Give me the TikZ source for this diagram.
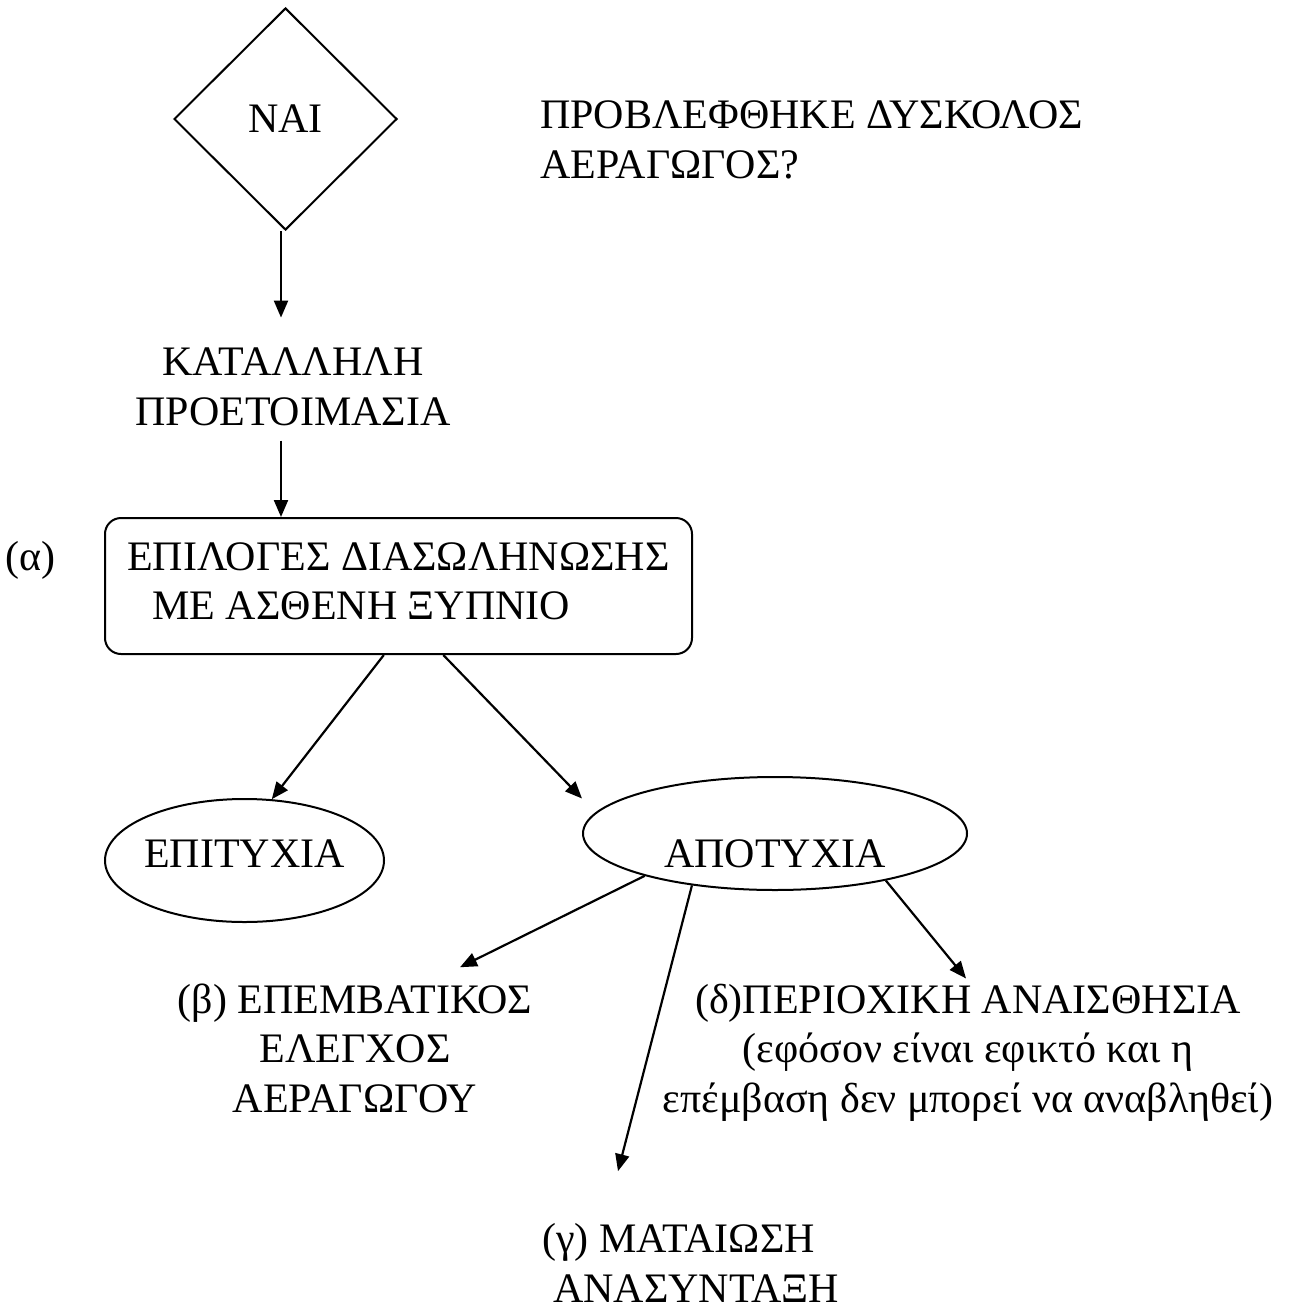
\documentclass[tikz,border=0pt]{standalone}
\usepackage{fontspec}
\setmainfont{Liberation Serif}
\usepackage{tikz}
\usetikzlibrary{shapes.geometric}
\usetikzlibrary{arrows.meta}
\usetikzlibrary{calc}

\begin{document}
\begin{tikzpicture}[x=1pt,y=-1pt,
        txt/.style={inner sep=0pt,font=\fontsize{42}{49.5}\selectfont},
        decision/.style={txt,diamond,draw,line width=2pt,minimum width=223pt,minimum height=222pt},
        choicebox/.style={txt,rectangle,rounded corners=16pt,draw,line width=2pt,minimum width=587pt,minimum height=136pt},
        outcome/.style={txt,ellipse,draw,line width=2pt,inner xsep=-2pt},
        arr/.style={-{Triangle[length=17pt,width=14pt]},line width=2.2pt}]
        % page
        \useasboundingbox (0,0) rectangle (1290,1311);

        % question
        \node[decision] (nai) at (285.5,119) {ΝΑΙ};
        \node[txt,align=left,anchor=base west] (question) at (540,178) {ΠΡΟΒΛΕΦΘΗΚΕ ΔΥΣΚΟΛΟΣ\\ΑΕΡΑΓΩΓΟΣ?};

        % preparation
        \node[txt,align=center,anchor=base] (prep) at (293,425) {ΚΑΤΑΛΛΗΛΗ\\ΠΡΟΕΤΟΙΜΑΣΙΑ};

        % awake intubation
        \node[choicebox,align=left,text depth=10pt] (awake) at (398.5,586) {ΕΠΙΛΟΓΕΣ ΔΙΑΣΩΛΗΝΩΣΗΣ\\\hspace*{0.6em}ΜΕ ΑΣΘΕΝΗ ΞΥΠΝΙΟ};
        \node[txt,anchor=base west] (alpha) at (5,570) {(α)};

        % outcome
        \node[outcome,minimum width=279pt,minimum height=123pt,text height=28pt,text depth=15pt] (succ) at (244.5,860.5) {ΕΠΙΤΥΧΙΑ};
        \node[outcome,minimum width=384pt,minimum height=113pt,text height=67pt,text depth=0pt] (fail) at (775,833.5) {ΑΠΟΤΥΧΙΑ};

        % options after failure
        \node[txt,align=center,anchor=base] (beta) at (355,1112) {(β) ΕΠΕΜΒΑΤΙΚΟΣ\\ΕΛΕΓΧΟΣ\\ΑΕΡΑΓΩΓΟΥ};
        \node[txt,align=left,anchor=base west] (gamma) at (542,1302) {(γ) ΜΑΤΑΙΩΣΗ\\\hspace*{11pt}ΑΝΑΣΥΝΤΑΞΗ};
        \node[txt,align=center,anchor=base] (delta) at (968,1112) {(δ)ΠΕΡΙΟΧΙΚΗ ΑΝΑΙΣΘΗΣΙΑ\\(εφόσον είναι εφικτό και η\\επέμβαση δεν μπορεί να αναβληθεί)};

        % arrows
        \draw[arr] ($(nai.south)+(-4.5,0)$) -- ($(nai.south |- prep.north)+(-4.5,-30)$);
        \draw[arr] ($(nai.south |- prep.south)+(-4.5,15)$) -- ($(nai.south |- awake.north)+(-4.5,0)$);
        \draw[arr] (awake.258) -- (succ.66);
        \draw[arr] (awake.303) -- ($(fail.west)+(0,-35)$);
        \draw[arr] (fail.198) -- ($(beta.north)+(105,-16)$);
        \draw[arr] (fail.212) -- ($(gamma.north west)+(76,-52)$);
        \draw[arr] (fail.337) -- ($(delta.north)+(-2,-5)$);
\end{tikzpicture}
\end{document}
